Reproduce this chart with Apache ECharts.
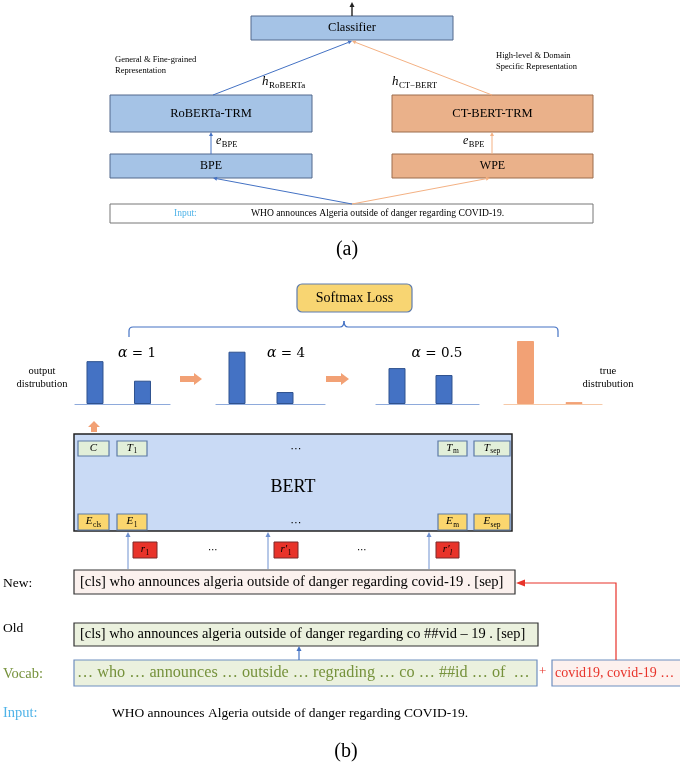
<!DOCTYPE html>
<html>
<head>
<meta charset="utf-8">
<script src="https://cdn.jsdelivr.net/npm/echarts@6/dist/echarts.min.js"></script>
<style>
  html, body { margin: 0; padding: 0; background: #fff; }
  #main { width: 680px; height: 768px; }
</style>
</head>
<body>
<div id="main"></div>
<script>
// Token slots shown in each small distribution plot
const tokenSlots = [1, 2];
// Output distributions under different temperatures, and the target distribution
const probsAlpha1 = [0.68, 0.37];
const probsAlpha4 = [0.83, 0.19];
const probsAlpha05 = [0.57, 0.46];
const probsTrue = [1.0, 0.03];
const alphaValues = ['1', '4', '0.5'];

const SERIF = '"Liberation Serif", "DejaVu Serif", serif';
const BLUE = '#4472c4';
const ORANGE_LINE = '#f4b183';
const ORANGE_BAR = '#f2a175';

const measureCtx = document.createElement('canvas').getContext('2d');
function textWidth(text, size, italic, family) {
  measureCtx.font = (italic ? 'italic ' : '') + size + 'px ' + (family || SERIF);
  return measureCtx.measureText(text).width;
}

function txt(x, y, text, o) {
  o = o || {};
  return {
    type: 'text', x: x, y: y, z: 10,
    style: {
      text: text,
      fill: o.fill || '#000',
      fontSize: o.size || 12,
      fontFamily: o.family || SERIF,
      fontStyle: o.italic ? 'italic' : 'normal',
      fontWeight: o.bold ? 'bold' : 'normal',
      align: o.align || 'left',
      verticalAlign: 'middle'
    }
  };
}
function box(x, y, w, h, fill, stroke, lw, r) {
  return {
    type: 'rect', z: 5,
    shape: { x: x, y: y, width: w, height: h, r: r || 0 },
    style: { fill: fill, stroke: stroke, lineWidth: lw == null ? 1 : lw }
  };
}
function arrow(x1, y1, x2, y2, color, lw, hl, hw) {
  const dx = x2 - x1, dy = y2 - y1, L = Math.hypot(dx, dy);
  const ux = dx / L, uy = dy / L, px = -uy, py = ux;
  const bx = x2 - ux * hl, by = y2 - uy * hl;
  return [
    { type: 'line', z: 6, shape: { x1: x1, y1: y1, x2: bx, y2: by }, style: { stroke: color, lineWidth: lw } },
    { type: 'polygon', z: 6, shape: { points: [[x2, y2], [bx + px * hw, by + py * hw], [bx - px * hw, by - py * hw]] }, style: { fill: color } }
  ];
}
// italic symbol followed by a subscript; (x, cy) is the left edge when alignLeft, else the centre
function symSub(x, cy, main, sub, size, subSize, subItalic, alignLeft) {
  const mw = textWidth(main, size, true) + 0.5;
  const sw = textWidth(sub, subSize, !!subItalic);
  const x0 = alignLeft ? x : x - (mw + sw) / 2;
  return [
    txt(x0, cy, main, { size: size, italic: true }),
    txt(x0 + mw, cy + size * 0.3, sub, { size: subSize, italic: !!subItalic })
  ];
}
function blockArrowRight(x0, x1, y, color) {
  const hl = 8, st = 3, hw = 6;
  return {
    type: 'polygon', z: 6,
    shape: { points: [[x0, y - st], [x1 - hl, y - st], [x1 - hl, y - hw], [x1, y], [x1 - hl, y + hw], [x1 - hl, y + st], [x0, y + st]] },
    style: { fill: color }
  };
}
function blockArrowUp(x, yTop, yBot, color) {
  const hl = 6, st = 3, hw = 6;
  return {
    type: 'polygon', z: 6,
    shape: { points: [[x, yTop], [x + hw, yTop + hl], [x + st, yTop + hl], [x + st, yBot], [x - st, yBot], [x - st, yTop + hl], [x - hw, yTop + hl]] },
    style: { fill: color }
  };
}

const els = [];
const push = a => Array.isArray(a) ? els.push(...a) : els.push(a);

// ---------- (a) dual-encoder architecture ----------
const aBoxFill = '#a5c3e6', aBoxStroke = '#52698c';
const oBoxFill = '#eab18a', oBoxStroke = '#9c6d4d';

push(arrow(352, 16, 352, 2, '#222', 1.4, 5, 2.5));
push(box(251, 16, 202, 24, aBoxFill, aBoxStroke, 1));
push(txt(352, 28, 'Classifier', { size: 12.5, align: 'center' }));

push(txt(115, 60, 'General & Fine-grained', { size: 8.5 }));
push(txt(115, 71, 'Representation', { size: 8.5 }));
push(txt(496, 56, 'High-level & Domain', { size: 8.5 }));
push(txt(496, 67, 'Specific Representation', { size: 8.5 }));

push(arrow(213, 95, 352, 41, BLUE, 1, 4, 2));
push(arrow(492, 95, 352, 41, ORANGE_LINE, 1, 4, 2));
push(symSub(262, 82, 'h', 'RoBERTa', 13, 9, false, true));
push(symSub(392, 82, 'h', 'CT−BERT', 13, 8.8, false, true));

push(box(110, 95, 202, 37, aBoxFill, aBoxStroke, 1));
push(txt(211, 113.5, 'RoBERTa-TRM', { size: 12.5, align: 'center' }));
push(box(392, 95, 201, 37, oBoxFill, oBoxStroke, 1));
push(txt(492.5, 113.5, 'CT-BERT-TRM', { size: 12.5, align: 'center' }));

push(arrow(211, 154, 211, 132, BLUE, 1, 4, 2));
push(arrow(492, 154, 492, 132, ORANGE_LINE, 1, 4, 2));
push(symSub(216, 141, 'e', 'BPE', 12, 8.5, false, true));
push(symSub(463, 141, 'e', 'BPE', 12, 8.5, false, true));

push(box(110, 154, 202, 24, aBoxFill, aBoxStroke, 1));
push(txt(211, 166, 'BPE', { size: 12, align: 'center' }));
push(box(392, 154, 201, 24, oBoxFill, oBoxStroke, 1));
push(txt(492.5, 166, 'WPE', { size: 12, align: 'center' }));

push(arrow(352, 204, 213, 178, BLUE, 1, 4, 2));
push(arrow(352, 204, 490, 178, ORANGE_LINE, 1, 4, 2));

push(box(110, 204, 483, 19, '#fff', '#777', 1));
push(txt(174, 213.5, 'Input:', { size: 9.5, fill: '#4fb3e8' }));
push(txt(251, 213.5, 'WHO announces Algeria outside of danger regarding COVID-19.', { size: 9.6 }));

push(txt(347, 250, '(a)', { size: 20, align: 'center' }));

// ---------- (b) temperature-scaled distillation ----------
push(box(297, 284, 115, 28, '#f8d572', '#5f7cad', 1.2, 5));
push(txt(354.5, 298, 'Softmax Loss', { size: 14, align: 'center' }));

// brace gathering the distributions
const br = { stroke: BLUE, lineWidth: 1.2, fill: null };
push({ type: 'line', z: 6, shape: { x1: 129, y1: 337, x2: 129, y2: 331 }, style: br });
push({ type: 'bezierCurve', z: 6, shape: { x1: 129, y1: 331, cpx1: 129, cpy1: 327, x2: 133, y2: 327 }, style: br });
push({ type: 'line', z: 6, shape: { x1: 133, y1: 327, x2: 340, y2: 327 }, style: br });
push({ type: 'bezierCurve', z: 6, shape: { x1: 340, y1: 327, cpx1: 344, cpy1: 327, x2: 344, y2: 321 }, style: br });
push({ type: 'bezierCurve', z: 6, shape: { x1: 344, y1: 321, cpx1: 344, cpy1: 327, x2: 348, y2: 327 }, style: br });
push({ type: 'line', z: 6, shape: { x1: 348, y1: 327, x2: 554, y2: 327 }, style: br });
push({ type: 'bezierCurve', z: 6, shape: { x1: 554, y1: 327, cpx1: 558, cpy1: 327, x2: 558, y2: 331 }, style: br });
push({ type: 'line', z: 6, shape: { x1: 558, y1: 331, x2: 558, y2: 337 }, style: br });

// temperature labels: italic alpha, upright "= value"
[137, 286, 437].forEach((cx, i) => {
  const a = 'α', rest = ' = ' + alphaValues[i];
  const fam = '"DejaVu Serif", serif';
  const wa = textWidth(a, 14, true, fam), wr = textWidth(rest, 13.5, false, fam);
  const x0 = cx - (wa + wr) / 2;
  push(txt(x0, 353, a, { size: 14, italic: true, family: fam }));
  push(txt(x0 + wa, 353, rest, { size: 13.5, family: fam }));
});

push(txt(42, 371, 'output', { size: 10.5, align: 'center' }));
push(txt(42, 384, 'distrubution', { size: 10.5, align: 'center' }));
push(txt(608, 371, 'true', { size: 10.5, align: 'center' }));
push(txt(608, 384, 'distrubution', { size: 10.5, align: 'center' }));

push(blockArrowRight(180, 202, 379, ORANGE_BAR));
push(blockArrowRight(326, 349, 379, ORANGE_BAR));
push(blockArrowUp(94, 421, 432, ORANGE_BAR));

// BERT encoder block
push(box(74, 434, 438, 97, '#c9daf5', '#222', 1.5));
push(txt(293, 487, 'BERT', { size: 18, align: 'center' }));
const greenTok = '#e2efd9', yellowTok = '#fbd66e', tokStroke = '#5d7aa6';
const tokCols = [[78, 31], [117, 30], [438, 29], [474, 36]];
tokCols.forEach(([x, w]) => {
  push(box(x, 441, w, 15, greenTok, tokStroke, 1.2));
  push(box(x, 514, w, 16, yellowTok, tokStroke, 1.2));
});
push(txt(93.5, 448.5, 'C', { size: 11, italic: true, align: 'center' }));
push(symSub(132, 448, 'T', '1', 11, 7.5));
push(symSub(452.5, 448, 'T', 'm', 11, 7.5));
push(symSub(492, 448, 'T', 'sep', 11, 7.5));
push(symSub(93.5, 521.5, 'E', 'cls', 11, 7.5));
push(symSub(132, 521.5, 'E', '1', 11, 7.5));
push(symSub(452.5, 521.5, 'E', 'm', 11, 7.5));
push(symSub(492, 521.5, 'E', 'sep', 11, 7.5));
push(txt(296, 449, '⋯', { size: 11, align: 'center', family: '"DejaVu Sans", sans-serif' }));
push(txt(296, 523, '⋯', { size: 11, align: 'center', family: '"DejaVu Sans", sans-serif' }));

// replaced-token inputs
const upBlue = '#6f91d0';
[128, 268, 429].forEach(x => push(arrow(x, 569, x, 532, upBlue, 1, 5, 2.5)));
const redFill = '#e8332a', redStroke = '#7a2a2a';
push(box(133, 542, 24, 16, redFill, redStroke, 1));
push(box(274, 542, 24, 16, redFill, redStroke, 1));
push(box(436, 542, 23, 16, redFill, redStroke, 1));
push(symSub(145, 549.5, 'r', '1', 11, 7.5));
push(symSub(286, 549.5, 'r′', '1', 11, 7.5));
push(symSub(447.5, 549.5, 'r′', 'l', 11, 7.5, true));
push(txt(213, 550, '⋯', { size: 10, align: 'center', family: '"DejaVu Sans", sans-serif' }));
push(txt(362, 550, '⋯', { size: 10, align: 'center', family: '"DejaVu Sans", sans-serif' }));

// tokenisations
push(txt(3, 583, 'New:', { size: 13.5 }));
push(box(74, 570, 441, 24, '#fbf1ee', '#333', 1.2));
push(txt(80, 582, '[cls] who announces algeria outside of danger regarding covid-19 . [sep]', { size: 14.6 }));

push(txt(3, 628, 'Old', { size: 13.5 }));
push(box(74, 623, 464, 23, '#ebf1de', '#333', 1.2));
push(txt(80, 634.5, '[cls] who announces algeria outside of danger regarding co ##vid – 19 . [sep]', { size: 14.4 }));

push(arrow(299, 660, 299, 646, BLUE, 1.2, 5, 2.5));

const vocabGreen = '#76923c';
push(txt(3, 674, 'Vocab:', { size: 14.5, fill: vocabGreen }));
push(box(74, 660, 463, 26, '#ebf1de', '#6f8fbf', 1.2));
push(txt(77, 673, '… who … announces … outside … regrading … co … ##id … of  …', { size: 16.2, fill: vocabGreen }));
push(txt(539, 672, '+', { size: 13, fill: '#e8332a' }));
push(box(552, 660, 140, 26, '#fdf1ee', '#6f8fbf', 1.2));
push(txt(555, 673, 'covid19, covid-19 …', { size: 14, fill: '#e8332a' }));

// new-vocabulary path back into the tokeniser
push({ type: 'polyline', z: 6, shape: { points: [[616, 660], [616, 583], [525, 583]] }, style: { stroke: '#e8332a', lineWidth: 1.2, fill: null } });
push({ type: 'polygon', z: 6, shape: { points: [[516, 583], [525, 579.5], [525, 586.5]] }, style: { fill: '#e8332a' } });

push(txt(3, 713, 'Input:', { size: 14.5, fill: '#4fb3e8' }));
push(txt(112, 713, 'WHO announces Algeria outside of danger regarding COVID-19.', { size: 13.5 }));
push(txt(346, 752, '(b)', { size: 20, align: 'center' }));

// ---------- distribution plots ----------
const plots = [
  { left: 75, width: 95, min: 0.579, max: 2.579, probs: probsAlpha1, color: BLUE, border: '#2f528f', base: '#8eaadb' },
  { left: 216, width: 109, min: 0.5625, max: 2.833, probs: probsAlpha4, color: BLUE, border: '#2f528f', base: '#8eaadb' },
  { left: 376, width: 103, min: 0.553, max: 2.745, probs: probsAlpha05, color: BLUE, border: '#2f528f', base: '#8eaadb' },
  { left: 504, width: 98, min: 0.557, max: 2.577, probs: probsTrue, color: ORANGE_BAR, border: ORANGE_BAR, base: '#f6c9a8' }
];

const option = {
  backgroundColor: '#fff',
  animation: false,
  grid: plots.map(p => ({ left: p.left, top: 341, width: p.width, height: 63, containLabel: false })),
  xAxis: plots.map((p, i) => ({
    type: 'value', gridIndex: i, min: p.min, max: p.max,
    axisLine: { show: true, lineStyle: { color: p.base, width: 1.2 } },
    axisTick: { show: false }, axisLabel: { show: false }, splitLine: { show: false }
  })),
  yAxis: plots.map((p, i) => ({
    type: 'value', gridIndex: i, min: 0, max: 1, show: false, splitLine: { show: false }
  })),
  series: plots.map((p, i) => ({
    type: 'bar', xAxisIndex: i, yAxisIndex: i, barWidth: 17,
    data: tokenSlots.map((s, j) => [s, p.probs[j]]),
    itemStyle: { color: p.color, borderColor: p.border, borderWidth: 1 },
    silent: true
  })),
  graphic: { elements: els }
};

const chart = echarts.init(document.getElementById('main'), null, { renderer: 'canvas' });
chart.setOption(option);
</script>
</body>
</html>
